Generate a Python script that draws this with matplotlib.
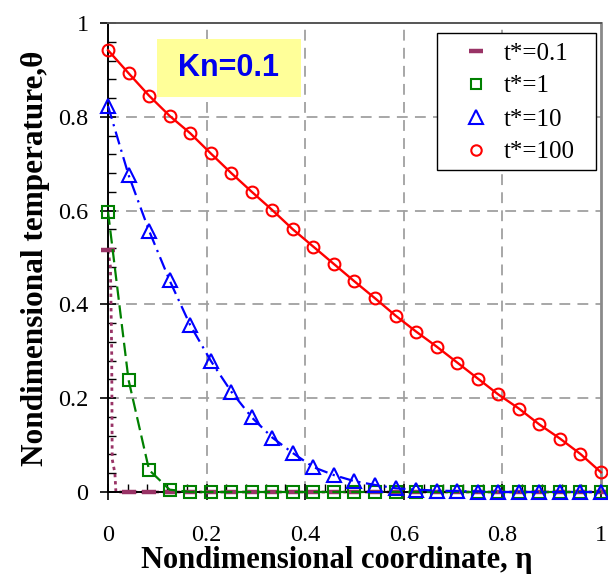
import matplotlib
matplotlib.use("Agg")
import matplotlib.pyplot as plt
from matplotlib.lines import Line2D
from matplotlib.ticker import MultipleLocator, FixedLocator

# Sampled positions: 25 nodes across the slab
eta = [i / 24 for i in range(25)]

# Temperature profiles at the sampled nodes
theta_t01 = [0.515] + [0.0] * 24
theta_t1 = [0.598, 0.239, 0.047, 0.005] + [0.0] * 21
theta_t10 = [0.823, 0.676, 0.557, 0.451, 0.356, 0.280, 0.214, 0.159, 0.116,
             0.083, 0.053, 0.036, 0.023, 0.015, 0.008, 0.005, 0.003, 0.002,
             0.001, 0.0, 0.0, 0.0, 0.0, 0.0, 0.0]
theta_t100 = [0.942, 0.893, 0.845, 0.802, 0.765, 0.722, 0.680, 0.640, 0.601,
              0.560, 0.523, 0.486, 0.449, 0.413, 0.376, 0.342, 0.310, 0.276,
              0.242, 0.208, 0.178, 0.144, 0.114, 0.081, 0.042]

# Fine-mesh curve for the earliest time (steep front near the wall)
eta_fine_t01 = [0.0, 0.005, 0.0075, 0.0085, 0.014, 0.016, 1.0]
theta_fine_t01 = [0.515, 0.48, 0.30, 0.07, 0.04, 0.0, 0.0]

labels = ["t*=0.1", "t*=1", "t*=10", "t*=100"]
x_ticks = [0, 0.2, 0.4, 0.6, 0.8, 1]
x_ticklabels = ["0", "0.2", "0.4", "0.6", "0.8", "1"]
y_ticks = [0, 0.2, 0.4, 0.6, 0.8, 1]
y_ticklabels = ["0", "0.2", "0.4", "0.6", "0.8", "1"]

SERIF = ["Liberation Serif", "DejaVu Serif"]
C_PURPLE = "#993366"
C_GREEN = "#008000"
C_BLUE = "#0000FF"
C_RED = "#FF0000"

W, H = 608, 574
fig = plt.figure(figsize=(W / 100, H / 100), dpi=100)
L, R, B, T = 108, 601, 492, 23
ax = fig.add_axes([L / W, 1 - B / H, (R - L) / W, (B - T) / H])
ax.set_xlim(0, 1)
ax.set_ylim(0, 1)


def px_to_axes(px, py):
    return (px - L) / (R - L), (B - py) / (B - T)


# grid
for v in [0.2, 0.4, 0.6, 0.8]:
    ax.axvline(v, color="#a0a0a0", lw=1.3, ls=(0, (6, 4)), zorder=0)
    ax.axhline(v, color="#a0a0a0", lw=1.3, ls=(0, (6, 4)), zorder=0)

# series
ax.plot(eta_fine_t01, theta_fine_t01, color=C_PURPLE, lw=2.0,
        ls=(0, (1.2, 1.4)), zorder=2, clip_on=False)
ax.plot(eta, theta_t01, ls="none", marker="_", ms=10, mew=3.2,
        color=C_PURPLE, zorder=3, clip_on=False)

ax.plot(eta, theta_t1, color=C_GREEN, lw=1.6, ls=(0, (6, 2.5)),
        marker="s", ms=8, mfc="none", mec=C_GREEN, mew=1.5, zorder=4,
        clip_on=False)

ax.plot(eta, theta_t10, color=C_BLUE, lw=1.6, ls=(0, (6, 2.5, 1, 2.5)),
        marker="^", ms=10, mfc="none", mec=C_BLUE, mew=1.5, zorder=5,
        clip_on=False)

ax.plot(eta, theta_t100, color=C_RED, lw=1.7, ls="-",
        marker="o", ms=8.5, mfc="none", mec=C_RED, mew=1.5, zorder=6,
        clip_on=False)

# spines
for s in ["left", "bottom"]:
    ax.spines[s].set_color("black")
    ax.spines[s].set_linewidth(1.4)
ax.spines["top"].set_color("#555555")
ax.spines["top"].set_linewidth(1.4)
ax.spines["right"].set_color("#8a8a8a")
ax.spines["right"].set_linewidth(2.0)

# ticks
ax.xaxis.set_major_locator(FixedLocator(x_ticks))
ax.yaxis.set_major_locator(FixedLocator(y_ticks))
ax.set_xticklabels(x_ticklabels, fontfamily=SERIF, fontsize=17.5)
ax.set_yticklabels(y_ticklabels, fontfamily=SERIF, fontsize=17.5)
ax.xaxis.set_minor_locator(MultipleLocator(0.04))
ax.yaxis.set_minor_locator(MultipleLocator(0.04))
ax.tick_params(axis="both", which="major", direction="inout", length=11,
               width=1.2, color="black")
ax.tick_params(axis="both", which="minor", direction="in", length=5.5,
               width=1.0, color="black")
ax.tick_params(axis="x", which="major", pad=18)
ax.tick_params(axis="y", which="major", pad=8.5)

# axis titles
fig.text(336.7 / W, 1 - 568 / H, "Nondimensional coordinate, \u03b7",
         fontfamily=SERIF, fontweight="bold", fontsize=22,
         ha="center", va="baseline")
fig.text(43 / W, 1 - 258 / H, "Nondimensional temperature,\u03b8",
         fontfamily=SERIF, fontweight="bold", fontsize=22.5,
         rotation=90, rotation_mode="anchor", ha="center", va="baseline")

# Knudsen number tag
bx0, bx1, by0, by1 = 157, 301, 39, 97
fig.patches.append(plt.Rectangle((bx0 / W, 1 - by1 / H), (bx1 - bx0) / W,
                                 (by1 - by0) / H, transform=fig.transFigure,
                                 facecolor="#FFFF99", edgecolor="none",
                                 zorder=1))
fig.text((bx0 + bx1) / 2 / W, 1 - (by0 + by1) / 2 / H, "Kn=0.1",
         fontfamily=["Liberation Sans", "DejaVu Sans"], fontweight="bold",
         fontsize=22, color="#0000EE", ha="center", va="center", zorder=2)

# legend box
lx0, ly0, lx1, ly1 = 437, 33, 596, 170
ax0, ay0 = px_to_axes(lx0, ly1)
ax1, ay1 = px_to_axes(lx1, ly0)
ax.add_patch(plt.Rectangle((ax0, ay0), ax1 - ax0, ay1 - ay0,
                           transform=ax.transAxes, facecolor="white",
                           edgecolor="black", lw=1.0, zorder=9,
                           clip_on=False))

# legend entries with marker-only handles
handles = [
    Line2D([], [], ls="none", marker="_", ms=10, mew=3.2, color=C_PURPLE),
    Line2D([], [], ls="none", marker="s", ms=7.5, mfc="none", mec=C_GREEN, mew=1.5),
    Line2D([], [], ls="none", marker="^", ms=9.5, mfc="none", mec=C_BLUE, mew=1.5),
    Line2D([], [], ls="none", marker="o", ms=7.5, mfc="none", mec=C_RED, mew=1.5),
]
leg = ax.legend(handles, labels, loc="upper left",
                bbox_to_anchor=px_to_axes(449, 42),
                prop={"family": SERIF, "size": 18}, frameon=False,
                borderpad=0, labelspacing=0.42, handlelength=2.2,
                handletextpad=0.0, borderaxespad=0)
leg.set_zorder(10)

fig.savefig("out.png", dpi=100)
